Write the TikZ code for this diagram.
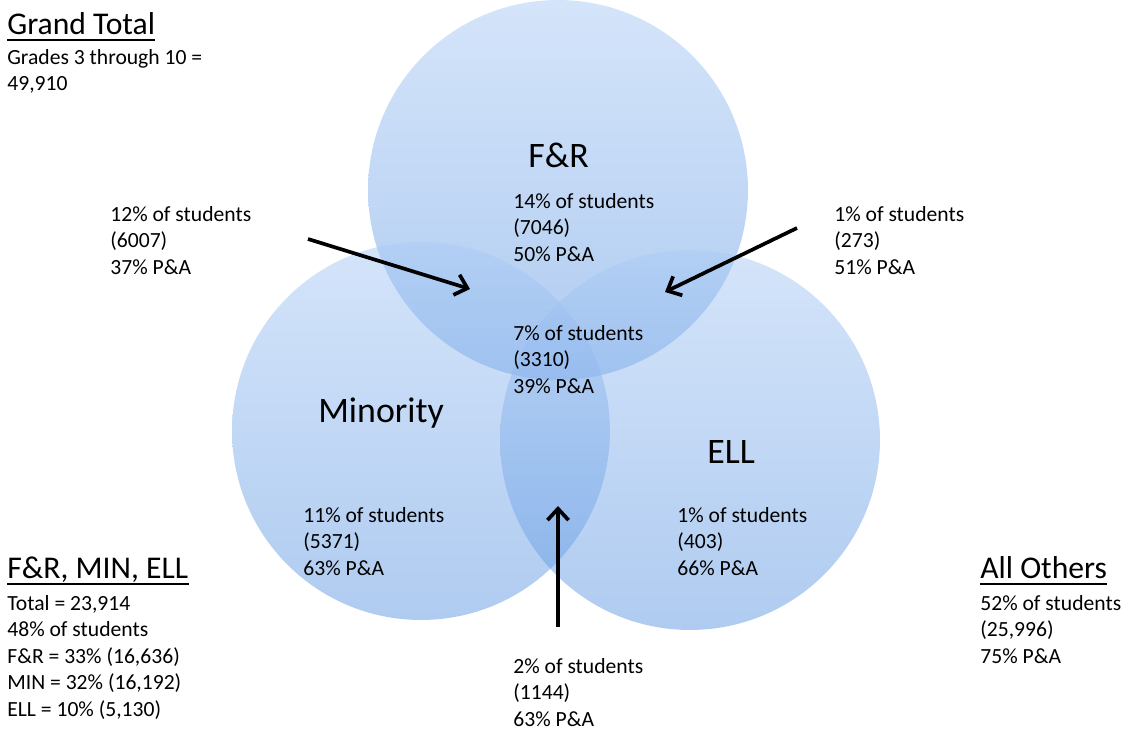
\documentclass[tikz,border=0pt]{standalone}
\usepackage{fontspec}
\setmainfont{Carlito}
\usetikzlibrary{arrows.meta}
\definecolor{ctop}{RGB}{170,202,245}
\definecolor{cbot}{RGB}{95,152,226}
\begin{document}
\begin{tikzpicture}[x=0.02cm,y=-0.02cm,
  small/.style={font=\fontsize{12.3}{15}\selectfont, anchor=base west, align=left, inner sep=0pt},
  big/.style={font=\fontsize{20.4}{24}\selectfont, anchor=base west, inner sep=0pt},
  titletext/.style={font=\fontsize{18}{22}\selectfont, anchor=base west, inner sep=0pt},
  venn/.style={top color=ctop, bottom color=cbot, opacity=0.5},
  pointer/.style={line width=2.1pt, -{Straight Barb[length=6.5pt,width=12pt,line width=2.1pt]}},
  uline/.style={line width=1.1pt}]
\useasboundingbox (0,0) rectangle (1123,728);
% circles
\shade[venn] (558,190) circle[radius=3.8cm];
\shade[venn] (421,431) circle[radius=3.78cm];
\shade[venn] (690,440) circle[radius=3.8cm];
% circle titles
\node[big] (fr) at (528,167) {F\&R};
\node[big] (min) at (318,422) {Minority};
\node[big] (ell) at (707,463) {ELL};
% region texts (anchored at the baseline of the last line)
\node[small] (tfr) at (513,261) {14\% of students\\(7046)\\50\% P\&A};
\node[small] (tall) at (513,393) {7\% of students\\(3310)\\39\% P\&A};
\node[small] (tmin) at (303,575) {11\% of students\\(5371)\\63\% P\&A};
\node[small] (tell) at (677,575) {1\% of students\\(403)\\66\% P\&A};
\node[small] (tfm) at (110,274) {12\% of students\\(6007)\\37\% P\&A};
\node[small] (tfe) at (834,274) {1\% of students\\(273)\\51\% P\&A};
\node[small] (tme) at (513,726) {2\% of students\\(1144)\\63\% P\&A};
% side titles
\node[titletext] (gt) at (7,34) {Grand Total};
\node[small] (gtt) at (7,90.5) {Grades 3 through 10 =\\49,910};
\node[titletext] (fme) at (7,578) {F\&R, MIN, ELL};
\node[small] (fmet) at (7,716) {Total = 23,914\\48\% of students\\F\&R = 33\% (16,636)\\MIN = 32\% (16,192)\\ELL = 10\% (5,130)};
\node[titletext] (ao) at (980,578) {All Others};
\node[small] (aot) at (980,663) {52\% of students\\(25,996)\\75\% P\&A};
\draw[uline] ([yshift=-3.2pt]gt.base west) -- ([yshift=-3.2pt]gt.base east);
\draw[uline] ([yshift=-3.2pt]fme.base west) -- ([yshift=-3.2pt]fme.base east);
\draw[uline] ([yshift=-3.2pt]ao.base west) -- ([yshift=-3.2pt]ao.base east);
% arrows
\coordinate (a1s) at (308,239);
\coordinate (a1e) at (470,289);
\coordinate (a2s) at (797,228);
\coordinate (a2e) at (665,292);
\coordinate (a3s) at (558,627);
\coordinate (a3e) at (558,506);
\draw[pointer] (a1s) -- (a1e);
\draw[pointer] (a2s) -- (a2e);
\draw[pointer] (a3s) -- (a3e);
\end{tikzpicture}
\end{document}
